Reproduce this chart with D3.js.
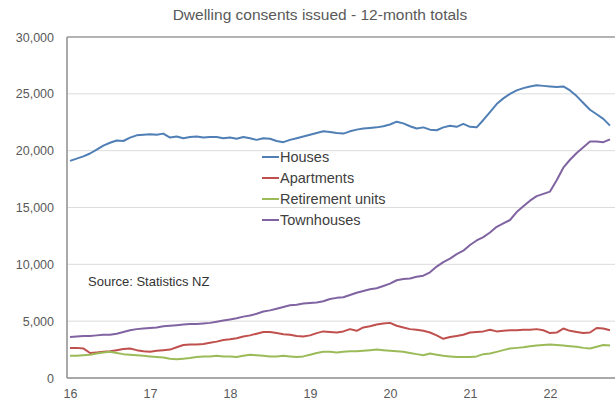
<!DOCTYPE html>
<html>
<head>
<meta charset="utf-8">
<script src="https://cdn.jsdelivr.net/npm/d3@7"></script>
<style>
  body { margin: 0; background: #fff; }
  text { font-family: "Liberation Sans", Arial, sans-serif; }
</style>
</head>
<body>
<div id="chart"></div>
<script>
// monthly 12-month totals, Jan 2016 .. Oct 2022
const startYear = 2016;
const yearLabels = ["16", "17", "18", "19", "20", "21", "22"];
const yTicks = [0, 5000, 10000, 15000, 20000, 25000, 30000];

const houses = [
    19100, 19300, 19500, 19750, 20100, 20450, 20700, 20900, 20850, 21150, 21350, 21400,
    21450, 21400, 21500, 21150, 21250, 21100, 21200, 21250, 21150, 21200, 21200, 21100,
    21150, 21050, 21200, 21100, 20950, 21100, 21050, 20850, 20750, 20950, 21100, 21250,
    21400, 21550, 21700, 21650, 21550, 21500, 21700, 21850, 21950, 22000, 22050, 22150,
    22300, 22550, 22400, 22150, 21950, 22050, 21850, 21800, 22050, 22200, 22100, 22350,
    22100, 22050, 22700, 23400, 24100, 24600, 25000, 25300, 25500, 25650, 25750, 25700,
    25650, 25600, 25650, 25300, 24800, 24200, 23600, 23200, 22800, 22200
];
const apartments = [
    2650, 2650, 2600, 2200, 2250, 2300, 2350, 2450, 2550, 2600, 2450, 2350,
    2300, 2400, 2450, 2500, 2700, 2900, 2950, 2950, 3000, 3100, 3200, 3350,
    3400, 3500, 3650, 3750, 3900, 4050, 4050, 3950, 3850, 3800, 3700, 3650,
    3750, 3950, 4100, 4050, 4000, 4100, 4300, 4150, 4450, 4550, 4700, 4800,
    4850, 4600, 4450, 4300, 4250, 4150, 4000, 3750, 3450, 3600, 3700, 3800,
    4000, 4050, 4100, 4250, 4100, 4150, 4200, 4200, 4250, 4250, 4300, 4200,
    3950, 4000, 4350, 4150, 4050, 3950, 4000, 4400, 4350, 4200
];
const retirement = [
    1950, 1950, 2000, 2050, 2150, 2250, 2300, 2200, 2100, 2050, 2000, 1950,
    1900, 1850, 1800, 1700, 1650, 1700, 1750, 1850, 1900, 1900, 1950, 1900,
    1900, 1850, 1950, 2050, 2000, 1950, 1900, 1900, 1950, 1900, 1850, 1900,
    2050, 2200, 2300, 2300, 2250, 2300, 2350, 2350, 2400, 2450, 2500, 2450,
    2400, 2350, 2300, 2200, 2100, 2000, 2150, 2050, 1950, 1900, 1850, 1850,
    1850, 1900, 2100, 2150, 2300, 2450, 2600, 2650, 2700, 2800, 2850, 2900,
    2950, 2900, 2850, 2800, 2750, 2650, 2600, 2750, 2900, 2850
];
const townhouses = [
    3600, 3650, 3700, 3700, 3750, 3800, 3800, 3900, 4050, 4200, 4300, 4350,
    4400, 4450, 4550, 4600, 4650, 4700, 4750, 4750, 4800, 4850, 4950, 5050,
    5150, 5250, 5400, 5500, 5650, 5850, 5950, 6100, 6250, 6400, 6450, 6550,
    6600, 6650, 6750, 6950, 7050, 7100, 7300, 7500, 7650, 7800, 7900, 8100,
    8300, 8600, 8700, 8750, 8900, 9000, 9300, 9800, 10200, 10500, 10900, 11200,
    11700, 12100, 12400, 12800, 13300, 13600, 13900, 14600, 15100, 15600, 16000, 16200,
    16400, 17400, 18500, 19200, 19800, 20300, 20800, 20800, 20750, 21000
];

const seriesNames = ["Houses", "Apartments", "Retirement units", "Townhouses"];
const seriesValues = [houses, apartments, retirement, townhouses];
const seriesColors = ["#4f7fb5", "#c0504d", "#9bbb59", "#8064a2"];

const W = 615, H = 403;
const margin = {top: 37, right: 0, bottom: 25, left: 67};
const width = W - margin.left - margin.right,
      height = H - margin.top - margin.bottom;

const svg = d3.select("#chart").append("svg")
    .attr("width", W)
    .attr("height", H);

svg.append("text")
    .attr("x", 320)
    .attr("y", 20)
    .attr("text-anchor", "middle")
    .style("font-size", "15.5px")
    .style("fill", "#595959")
    .text("Dwelling consents issued - 12-month totals");

const g = svg.append("g")
    .attr("transform", "translate(" + margin.left + "," + margin.top + ")");

// x in months since Jan 2016
const x = d3.scaleLinear().domain([-0.45, 81.75]).range([0, width]);
const y = d3.scaleLinear().domain([0, 30000]).range([height, 0]);

// gridlines
g.selectAll(".grid")
    .data(yTicks.filter(d => d > 0 && d < 30000))
    .enter().append("line")
    .attr("x1", 0).attr("x2", width)
    .attr("y1", d => y(d)).attr("y2", d => y(d))
    .attr("stroke", "#dcdcdc")
    .attr("stroke-width", 1);

// y axis
const yAxis = g.append("g")
    .call(d3.axisLeft(y).tickValues(yTicks).tickSize(0).tickPadding(13)
        .tickFormat(d3.format(",")));
yAxis.select(".domain").remove();
yAxis.selectAll("text").style("font-size", "12.5px").style("fill", "#595959");

// x axis
const xAxis = g.append("g")
    .attr("transform", "translate(0," + height + ")")
    .call(d3.axisBottom(x).tickValues(yearLabels.map((d, i) => i * 12))
        .tickSize(0).tickPadding(11)
        .tickFormat((d, i) => yearLabels[i]));
xAxis.select(".domain").remove();
xAxis.selectAll("text").style("font-size", "12.5px").style("fill", "#595959");

// frame lines: top, left, bottom
g.append("line").attr("x1", 0).attr("x2", width).attr("y1", y(30000)).attr("y2", y(30000))
    .attr("stroke", "#9a9a9a").attr("stroke-width", 1.3);
g.append("line").attr("x1", 0).attr("x2", 0).attr("y1", y(30000)).attr("y2", height)
    .attr("stroke", "#8c8c8c").attr("stroke-width", 1.5);
g.append("line").attr("x1", 0).attr("x2", width).attr("y1", height).attr("y2", height)
    .attr("stroke", "#8c8c8c").attr("stroke-width", 1.5);

// lines
const line = d3.line()
    .x((d, i) => x(i))
    .y(d => y(d));

seriesValues.forEach((vals, k) => {
    g.append("path")
        .datum(vals)
        .attr("fill", "none")
        .attr("stroke", seriesColors[k])
        .attr("stroke-width", 2)
        .attr("stroke-linejoin", "round")
        .attr("d", line);
});

// legend
const legend = svg.append("g").attr("transform", "translate(262,157)");
seriesNames.forEach((name, k) => {
    legend.append("line")
        .attr("x1", 0).attr("x2", 17)
        .attr("y1", k * 21).attr("y2", k * 21)
        .attr("stroke", seriesColors[k]).attr("stroke-width", 2);
    legend.append("text")
        .attr("x", 18).attr("y", k * 21 + 5)
        .style("font-size", "14.5px")
        .style("fill", "#404040")
        .text(name);
});

svg.append("text")
    .attr("x", 88).attr("y", 286)
    .style("font-size", "13px")
    .style("fill", "#333")
    .text("Source: Statistics NZ");
</script>
</body>
</html>
